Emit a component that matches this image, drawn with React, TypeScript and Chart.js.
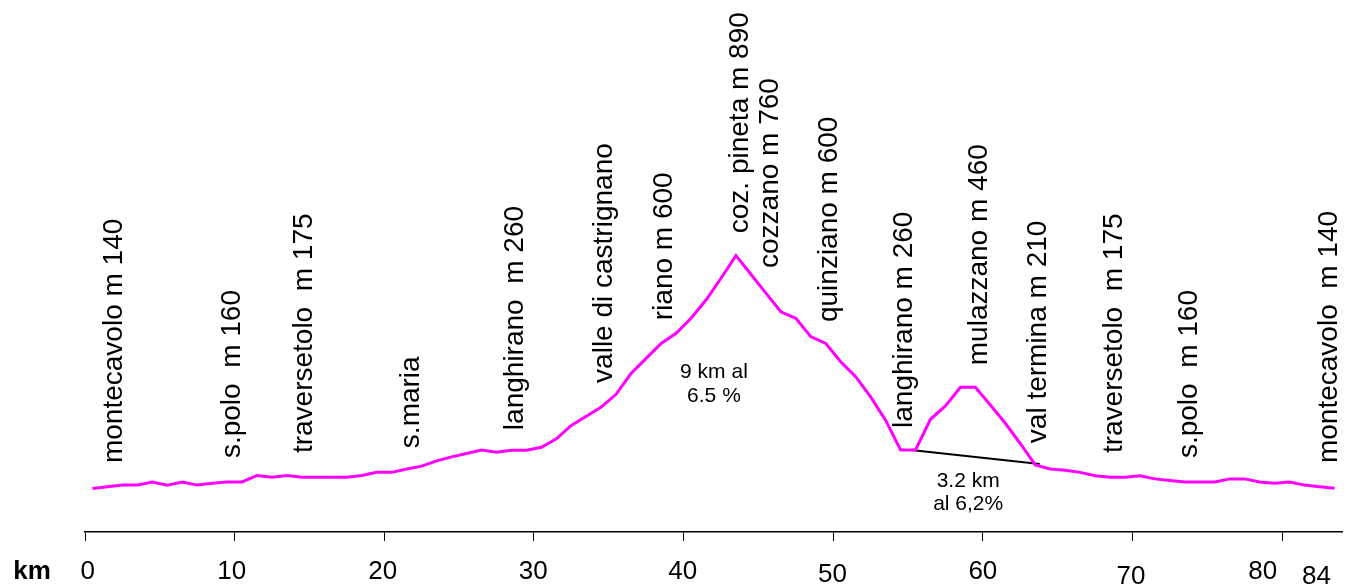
import { useEffect, useRef } from "react";
import { Chart, registerables } from "chart.js";

Chart.register(...registerables);

const FONT = '"Liberation Sans", Arial, sans-serif';

// km position of each profile point (centre of each 1 km segment)
const kmPoints = [
  0.5, 1.5, 2.5, 3.5, 4.5, 5.5, 6.5, 7.5, 8.5, 9.5,
  10.5, 11.5, 12.5, 13.5, 14.5, 15.5, 16.5, 17.5, 18.5, 19.5,
  20.5, 21.5, 22.5, 23.5, 24.5, 25.5, 26.5, 27.5, 28.5, 29.5,
  30.5, 31.5, 32.5, 33.5, 34.5, 35.5, 36.5, 37.5, 38.5, 39.5,
  40.5, 41.5, 42.5, 43.5, 44.5, 45.5, 46.5, 47.5, 48.5, 49.5,
  50.5, 51.5, 52.5, 53.5, 54.5, 55.5, 56.5, 57.5, 58.5, 59.5,
  60.5, 61.5, 62.5, 63.5, 64.5, 65.5, 66.5, 67.5, 68.5, 69.5,
  70.5, 71.5, 72.5, 73.5, 74.5, 75.5, 76.5, 77.5, 78.5, 79.5,
  80.5, 81.5, 82.5, 83.5,
];

// altitude (m) at each point
const altitude = [
  140, 146, 151, 151, 161, 151, 161, 151, 157, 161,
  161, 182, 176, 182, 176, 176, 176, 176, 182, 192,
  192, 203, 212, 229, 242, 253, 264, 257, 263, 263,
  273, 300, 343, 373, 402, 444, 511, 559, 607, 640,
  688, 747, 817, 890, 830, 769, 709, 688, 629, 607,
  548, 500, 435, 360, 264, 264, 363, 406, 466, 466,
  409, 350, 285, 216, 203, 199, 192, 181, 176, 176,
  181, 171, 166, 161, 161, 161, 171, 171, 161, 157,
  161, 151, 146, 141,
];

// climb line of the second ascent
const slopeKm = [55.2, 63.8];
const slopeAlt = [264, 219];

// place names (vertical labels)
const placeNames = [
  "montecavolo m 140",
  "s.polo  m 160",
  "traversetolo  m 175",
  "s.maria",
  "langhirano  m 260",
  "valle di castrignano",
  "riano m 600",
  "coz. pineta m 890",
  "cozzano m 760",
  "quinziano m 600",
  "langhirano m 260",
  "mulazzano m 460",
  "val termina m 210",
  "traversetolo  m 175",
  "s.polo  m 160",
  "montecavolo  m 140",
];
const placeKm = [2.45, 10.35, 15.2, 22.35, 29.3, 35.2, 39.2, 44.3, 46.3, 50.25, 55.25, 60.25, 64.25, 69.3, 74.3, 83.65];
const placeLabelAlt = [222, 238, 254, 270, 328, 480, 682, 962, 850, 676, 335, 537, 286, 254, 238, 222];

// gradient notes
const noteLines = [["9 km al", "6.5 %"], ["3.2 km", "al 6,2%"]];
const noteKm = [42.03, 59.02];
const noteAlt = [495, 146];

// x-axis ticks and labels
const tickValues = [0, 10, 20, 30, 40, 50, 60, 70, 80];
const tickLabels = ["0", "10", "20", "30", "40", "50", "60", "70", "80", "84"];
const tickLabelKm = [0.18, 9.8, 19.9, 29.95, 39.95, 49.95, 60.0, 69.9, 78.7, 82.3];

// layout (not data)
const TICK_LABEL_DROP = [0, 0, 0, 0, 0, 3, 0, 5, 0, 5];

const labelPlugin = {
  id: "profileLabels",
  afterDraw(chart: any) {
    const { ctx, chartArea } = chart;
    const x = chart.scales.x;
    const y = chart.scales.y;
    ctx.save();
    ctx.fillStyle = "#000";

    ctx.font = `28px ${FONT}`;
    ctx.textAlign = "left";
    ctx.textBaseline = "alphabetic";
    placeNames.forEach((name, i) => {
      const px = x.getPixelForValue(placeKm[i]);
      const py = y.getPixelForValue(placeLabelAlt[i]);
      ctx.save();
      ctx.translate(px, py);
      ctx.rotate(-Math.PI / 2);
      ctx.fillText(name, 0, 0);
      ctx.restore();
    });

    ctx.font = `21px ${FONT}`;
    ctx.textAlign = "center";
    noteLines.forEach((lines, i) => {
      const px = x.getPixelForValue(noteKm[i]);
      const py = y.getPixelForValue(noteAlt[i]);
      lines.forEach((t, j) => ctx.fillText(t, px, py + j * 23.5));
    });

    ctx.font = `26px ${FONT}`;
    ctx.textAlign = "center";
    const base = chartArea.bottom + 47;
    tickLabels.forEach((t, i) => {
      ctx.fillText(t, x.getPixelForValue(tickLabelKm[i]), base + TICK_LABEL_DROP[i]);
    });

    ctx.font = `bold 26px ${FONT}`;
    ctx.fillText("km", chartArea.left - 53, base - 0.5);
    ctx.restore();
  },
};

export default function App() {
  const ref = useRef<HTMLCanvasElement | null>(null);

  useEffect(() => {
    if (!ref.current) return;
    const chart = new Chart(ref.current, {
      type: "line",
      data: {
        datasets: [
          {
            data: kmPoints.map((k, i) => ({ x: k, y: altitude[i] })),
            borderColor: "#FF00FF",
            borderWidth: 3,
            pointRadius: 0,
            tension: 0,
            fill: false,
          },
          {
            data: slopeKm.map((k, i) => ({ x: k, y: slopeAlt[i] })),
            borderColor: "#000000",
            borderWidth: 2,
            pointRadius: 0,
            tension: 0,
            fill: false,
          },
        ],
      },
      options: {
        animation: false,
        responsive: true,
        maintainAspectRatio: false,
        layout: { padding: { left: 85, right: 12, top: 4, bottom: 0 } },
        plugins: {
          legend: { display: false },
          tooltip: { enabled: false },
        },
        scales: {
          x: {
            type: "linear",
            min: 0,
            max: 84,
            afterBuildTicks: (s: any) => {
              s.ticks = tickValues.map((v) => ({ value: v }));
            },
            afterFit: (s: any) => {
              s.height = 53;
            },
            ticks: { display: false },
            grid: {
              drawOnChartArea: false,
              drawTicks: true,
              tickLength: 9,
              color: "#000",
              lineWidth: 1,
            },
            border: { display: true, color: "#000", width: 1.5 },
          },
          y: { display: false, min: 0, max: 1700 },
        },
      },
      plugins: [labelPlugin],
    } as any);
    return () => chart.destroy();
  }, []);

  return (
    <div style={{ position: "fixed", left: 0, top: 0, width: "1354px", height: "585px", background: "#fff" }}>
      <canvas ref={ref} />
    </div>
  );
}
